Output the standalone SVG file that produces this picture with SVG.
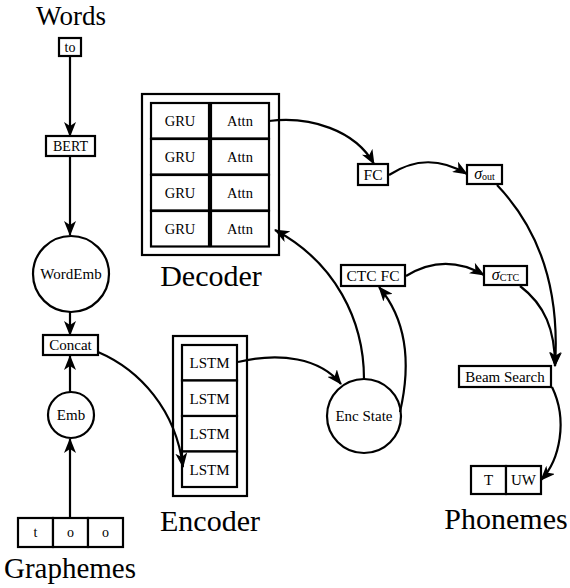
<svg xmlns="http://www.w3.org/2000/svg" width="570" height="588" viewBox="0 0 570 588">
<defs>
<marker id="ah" markerUnits="userSpaceOnUse" markerWidth="15" markerHeight="12" viewBox="0 0 15 12" refX="14" refY="6" orient="auto">
<path d="M0,0 L15,6 L0,12 L4,6 z" fill="#000"/>
</marker>
<style>
.b{fill:#fff;stroke:#000;stroke-width:2.2}
.c{fill:none;stroke:#000;stroke-width:2.2;marker-end:url(#ah)}
.t{text-anchor:middle;fill:#000}
</style>
</defs>
<rect width="570" height="588" fill="#fff"/>
<g id="words"><text class="t" font-family="Liberation Serif" font-size="27" x="71" y="25">Words</text></g>
<g id="to"><rect class="b" x="59" y="38" width="22" height="18"/><text class="t" font-family="Liberation Serif" font-size="14" x="70" y="51.5">to</text></g>
<g id="bert"><rect class="b" x="46" y="136" width="49" height="20"/><text class="t" font-family="Liberation Serif" font-size="14" x="70.5" y="151">BERT</text></g>
<g id="wordemb"><circle class="b" cx="71" cy="274" r="38"/><text class="t" font-family="Liberation Serif" font-size="15" x="71" y="279">WordEmb</text></g>
<g id="concat"><rect class="b" x="43" y="335" width="55" height="20"/><text class="t" font-family="Liberation Serif" font-size="15" x="70.5" y="350">Concat</text></g>
<g id="emb"><circle class="b" cx="71" cy="415" r="23"/><text class="t" font-family="Liberation Serif" font-size="15" x="71" y="420">Emb</text></g>
<g id="graphemes-box">
<rect class="b" x="18" y="518" width="35" height="29"/><text class="t" font-family="Liberation Serif" font-size="14" x="35.5" y="537">t</text>
<rect class="b" x="53" y="518" width="35" height="29"/><text class="t" font-family="Liberation Serif" font-size="14" x="70.5" y="537">o</text>
<rect class="b" x="88" y="518" width="35" height="29"/><text class="t" font-family="Liberation Serif" font-size="14" x="105.5" y="537">o</text>
</g>
<g id="graphemes"><text class="t" font-family="Liberation Serif" font-size="29" x="70" y="578">Graphemes</text></g>
<g id="decoder-box">
<rect class="b" x="142" y="94" width="137" height="161"/>
<rect class="b" x="151" y="103" width="58" height="35.5"/><text class="t" font-family="Liberation Serif" font-size="14.5" x="180" y="126">GRU</text>
<rect class="b" x="211" y="103" width="58" height="35.5"/><text class="t" font-family="Liberation Serif" font-size="14.5" x="240" y="126">Attn</text>
<rect class="b" x="151" y="139" width="58" height="35.5"/><text class="t" font-family="Liberation Serif" font-size="14.5" x="180" y="162">GRU</text>
<rect class="b" x="211" y="139" width="58" height="35.5"/><text class="t" font-family="Liberation Serif" font-size="14.5" x="240" y="162">Attn</text>
<rect class="b" x="151" y="175" width="58" height="35.5"/><text class="t" font-family="Liberation Serif" font-size="14.5" x="180" y="198">GRU</text>
<rect class="b" x="211" y="175" width="58" height="35.5"/><text class="t" font-family="Liberation Serif" font-size="14.5" x="240" y="198">Attn</text>
<rect class="b" x="151" y="211" width="58" height="35.5"/><text class="t" font-family="Liberation Serif" font-size="14.5" x="180" y="234">GRU</text>
<rect class="b" x="211" y="211" width="58" height="35.5"/><text class="t" font-family="Liberation Serif" font-size="14.5" x="240" y="234">Attn</text>
</g>
<g id="decoder"><text class="t" font-family="Liberation Serif" font-size="30" x="211" y="286">Decoder</text></g>
<g id="encoder-box">
<rect class="b" x="173" y="336" width="74" height="160"/>
<rect class="b" x="182" y="345" width="55" height="35.5"/><text class="t" font-family="Liberation Serif" font-size="15" x="209.5" y="368">LSTM</text>
<rect class="b" x="182" y="380.5" width="55" height="35.5"/><text class="t" font-family="Liberation Serif" font-size="15" x="209.5" y="403.5">LSTM</text>
<rect class="b" x="182" y="416" width="55" height="35.5"/><text class="t" font-family="Liberation Serif" font-size="15" x="209.5" y="439">LSTM</text>
<rect class="b" x="182" y="451.5" width="55" height="35.5"/><text class="t" font-family="Liberation Serif" font-size="15" x="209.5" y="474.5">LSTM</text>
</g>
<g id="encoder"><text class="t" font-family="Liberation Serif" font-size="30" x="210" y="531">Encoder</text></g>
<g id="fc"><rect class="b" x="358" y="164" width="30" height="21"/><text class="t" font-family="Liberation Serif" font-size="15.5" x="373" y="180">FC</text></g>
<g id="sigma-out"><rect class="b" x="467" y="165" width="35" height="19"/><text class="t" font-family="Liberation Serif" x="484.5" y="179"><tspan font-style="italic" font-size="16">σ</tspan><tspan font-size="10" dy="1">out</tspan></text></g>
<g id="ctc-fc"><rect class="b" x="341" y="265" width="64" height="21"/><text class="t" font-family="Liberation Serif" font-size="15.5" x="373" y="281">CTC FC</text></g>
<g id="sigma-ctc"><rect class="b" x="484" y="266" width="43" height="19"/><text class="t" font-family="Liberation Serif" x="505.5" y="280"><tspan font-style="italic" font-size="16">σ</tspan><tspan font-size="10" dy="1">CTC</tspan></text></g>
<g id="enc-state"><circle class="b" cx="364" cy="416" r="37"/><text class="t" font-family="Liberation Serif" font-size="15" x="364" y="421">Enc State</text></g>
<g id="beam-search"><rect class="b" x="459" y="366" width="92" height="21"/><text class="t" font-family="Liberation Serif" font-size="15" x="505" y="381.5">Beam Search</text></g>
<g id="phonemes-box">
<rect class="b" x="471" y="466" width="35" height="28"/><text class="t" font-family="Liberation Serif" font-size="15" x="488.5" y="485">T</text>
<rect class="b" x="506" y="466" width="35" height="28"/><text class="t" font-family="Liberation Serif" font-size="15" x="523.5" y="485">UW</text>
</g>
<g id="phonemes"><text class="t" font-family="Liberation Serif" font-size="30" x="506" y="529">Phonemes</text></g>
<g id="connectors">
<line class="c" x1="70" y1="57" x2="70" y2="136"/>
<line class="c" x1="70" y1="157" x2="70" y2="235"/>
<line class="c" x1="70" y1="312" x2="70" y2="335"/>
<line class="c" x1="70" y1="392" x2="70" y2="356"/>
<line class="c" x1="70" y1="518" x2="70" y2="439"/>
<path class="c" d="M98,352 C140,370 176,410 183,467"/>
<path class="c" d="M238,362 C280,352 320,358 341,384"/>
<path class="c" d="M364,379 C364,320 335,262 275,230"/>
<path class="c" d="M400,412 C412,360 405,318 379,287"/>
<path class="c" d="M269,121 C310,116 355,130 374,164"/>
<path class="c" d="M389,175 C415,158 440,158 467,174"/>
<path class="c" d="M406,276 C432,260 458,260 484,275"/>
<path class="c" d="M497,185 C540,230 560,290 555,366"/>
<path class="c" d="M520,286 C545,305 555,330 555,366"/>
<path class="c" d="M552,387 C568,420 560,460 541,480"/>
</g>
</svg>
